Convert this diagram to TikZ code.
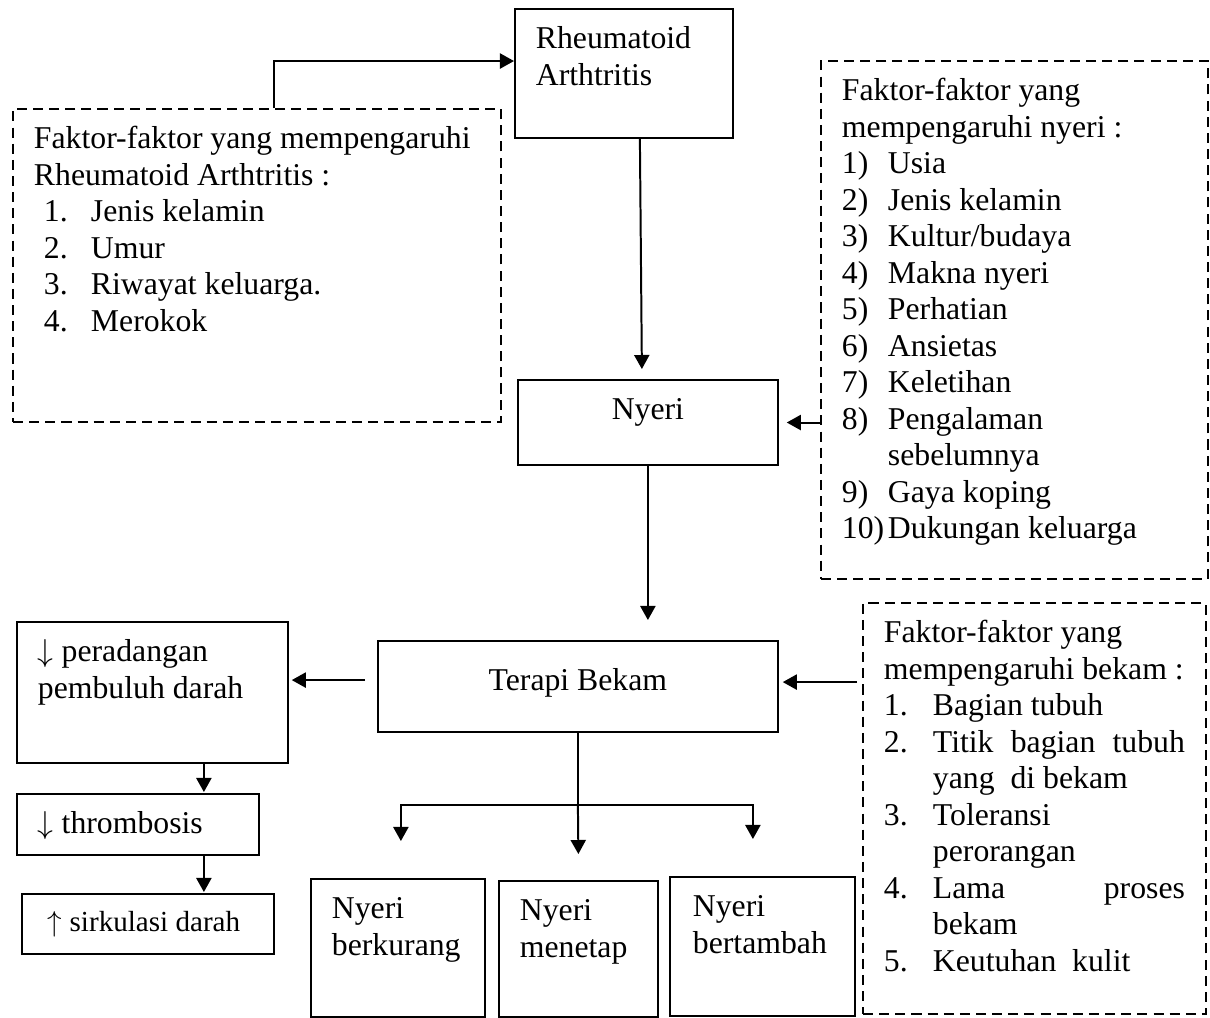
\documentclass[tikz,border=0pt]{standalone}
\usepackage{fontspec}
\setmainfont{Liberation Serif}
\usepackage{tikz}
\usetikzlibrary{calc, arrows.meta}
\newdimen\satuan \satuan=0.378pt
\newcommand{\isi}[3]{\parbox[t][#2\satuan][t]{#1\satuan}{\raggedright\hyphenpenalty=10000\strut#3}}
\newcommand{\butir}[4][0]{\par\noindent\hangindent=\dimexpr#1\satuan+#3\satuan\relax\hangafter=1 \hspace*{#1\satuan}\makebox[#3\satuan][l]{#2}#4}
\tikzstyle{kotak} = [draw, line width=0.75pt, anchor=north west, inner xsep=7.9pt, inner ysep=5.3pt, font=\fontsize{12}{13.8}\selectfont]
\tikzstyle{putus} = [kotak, line width=0.8pt, dash pattern=on 3.8pt off 2.3pt]
\tikzstyle{panah} = [line width=0.75pt, -{Triangle[length=5.3pt,width=5.7pt]}]

\begin{document}
\begin{tikzpicture}[x=0.378pt, y=-0.378pt]
        \useasboundingbox (0,0) rectangle (1210,1017);
        \node (ra) [kotak] at (514,8) {\isi{176}{101}{Rheumatoid\\Arthtritis}};
        \node (faktorra) [putus] at (12,108) {\isi{446}{285}{\mbox{Faktor-faktor yang mempengaruhi}\\Rheumatoid Arthtritis :%
            \butir[10]{1.}{47}{Jenis kelamin}%
            \butir[10]{2.}{47}{Umur}%
            \butir[10]{3.}{47}{Riwayat keluarga.}%
            \butir[10]{4.}{47}{Merokok}}};
        \node (faktornyeri) [putus] at (820,60) {\isi{345}{490}{Faktor-faktor yang\\\mbox{mempengaruhi nyeri :}%
            \butir{1)}{46}{Usia}%
            \butir{2)}{46}{Jenis kelamin}%
            \butir{3)}{46}{Kultur/budaya}%
            \butir{4)}{46}{Makna nyeri}%
            \butir{5)}{46}{Perhatian}%
            \butir{6)}{46}{Ansietas}%
            \butir{7)}{46}{Keletihan}%
            \butir{8)}{46}{Pengalaman\newline sebelumnya}%
            \butir{9)}{46}{Gaya koping}%
            \butir{10)}{46}{Dukungan keluarga}}};
        \node (nyeri) [kotak] at (517,379) {\isi{218}{57}{\centering Nyeri}};
        \node (terapi) [kotak, inner ysep=9.1pt] at (377,640) {\isi{358}{43}{\centering Terapi Bekam}};
        \node (faktorbekam) [putus] at (862,602) {\isi{301}{383}{Faktor-faktor yang\\\mbox{mempengaruhi bekam :}%
            \butir{1.}{49}{Bagian tubuh}%
            \butir{2.}{49}{Titik\hfill bagian\hfill tubuh\newline yang\ \ di bekam}%
            \butir{3.}{49}{Toleransi\newline perorangan}%
            \butir{4.}{49}{Lama\hfill proses\newline bekam}%
            \butir{5.}{49}{Keutuhan\ \ kulit}}};
        \node (radang) [kotak] at (16,621) {\isi{229}{113}{$\downarrow$ peradangan\\pembuluh darah}};
        \node (trombo) [kotak] at (16,793) {\isi{200}{33}{$\downarrow$ thrombosis}};
        \node (sirkulasi) [kotak, font=\fontsize{11}{12.65}\selectfont] at (21,893) {\isi{210}{32}{\hspace*{5\satuan}$\uparrow$ sirkulasi darah}};
        \node (berkurang) [kotak] at (310,878) {\isi{132}{110}{Nyeri\\berkurang}};
        \node (menetap) [kotak] at (498,880) {\isi{117}{108}{Nyeri\\menetap}};
        \node (bertambah) [kotak] at (669,876) {\isi{143}{111}{\hspace*{2\satuan}Nyeri\\\hspace*{2\satuan}bertambah}};
        \coordinate (cabang) at ($(terapi.south)+(0,72)$);
        \draw [panah] ($(faktorra.north)+(17,0)$) |- ($(ra.west)+(0,-12.5)$);
        \draw [panah] ($(ra.south)+(16,0)$) -- ($(nyeri.north)+(-6,-10)$);
        \draw [panah] (faktornyeri.west |- nyeri.east) -- ($(nyeri.east)+(8,0)$);
        \draw [panah] (nyeri.south) -- ($(nyeri.south |- terapi.north)+(0,-20)$);
        \draw [panah] ($(faktorbekam.west |- terapi.east)+(-5,-4.5)$) -- ($(terapi.east)+(4,-4.5)$);
        \draw [panah] ($(terapi.west)+(-12,-6.5)$) -- ($(terapi.west -| radang.east)+(3,-6.5)$);
        \draw [panah] ($(radang.south)+(51.5,0)$) -- ($(radang.south |- trombo.north)+(51.5,-1)$);
        \draw [panah] ($(trombo.south)+(66,0)$) -- ($(trombo.south |- sirkulasi.north)+(66,-1)$);
        \draw [line width=0.75pt] (terapi.south) -- (cabang);
        \draw [panah] (cabang) -| ($(berkurang.north)+(3,-37)$);
        \draw [panah] (cabang) -| ($(bertambah.north)+(-9.5,-37)$);
        \draw [panah] (cabang) -- ($(menetap.north)+(0,-26)$);
    \end{tikzpicture}
\end{document}
